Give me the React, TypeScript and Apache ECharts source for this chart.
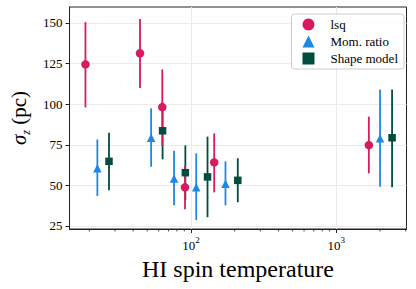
import React, { useEffect, useRef } from 'react';
import * as echarts from 'echarts';

// HI spin temperature (x) and sigma_z (pc) values with error bar bounds
const lsqT = [18.8, 44.6, 63.5, 91, 144.5, 1675];
const lsqV = [124.5, 131.3, 98.2, 48.8, 64.2, 74.8];
const lsqLo = [98, 110, 74.4, 35.3, 45.7, 57.4];
const lsqHi = [150.5, 152.4, 121.4, 62.1, 82, 92.3];

const momT = [22.7, 53.2, 76.5, 108.7, 172.8, 2000];
const momV = [60.5, 79.3, 54.3, 48.8, 51, 79];
const momLo = [43.5, 61.5, 37.7, 28.7, 37.7, 49.2];
const momHi = [78.3, 97.4, 71.3, 69.7, 64.8, 109];

const shapeT = [27.3, 63.8, 91.5, 130, 210, 2420];
const shapeV = [64.8, 83.6, 57.8, 55.2, 53.1, 79.3];
const shapeLo = [47, 66, 41, 30.4, 39.6, 48.8];
const shapeHi = [82.4, 101, 74.6, 80, 66.7, 109];

const yTicks = [25, 50, 75, 100, 125, 150];
const xMajor = [100, 1000];
const xMinor = [20, 30, 40, 50, 60, 70, 80, 90, 200, 300, 400, 500, 600, 700, 800, 900, 2000, 3000];

const C_LSQ = '#D81B60';
const C_MOM = '#1E88E5';
const C_SHAPE = '#004D40';
const FONT = '"Liberation Serif", "DejaVu Serif", serif';

function errSeries(name: string, xs: number[], lo: number[], hi: number[], color: string, z: number) {
  return {
    type: 'custom',
    name,
    z,
    data: xs.map((x, i) => [x, lo[i], hi[i]]),
    encode: { x: 0, y: [1, 2] },
    renderItem: (params: any, api: any) => {
      const p1 = api.coord([api.value(0), api.value(1)]);
      const p2 = api.coord([api.value(0), api.value(2)]);
      return {
        type: 'line',
        shape: { x1: p1[0], y1: p1[1], x2: p2[0], y2: p2[1] },
        style: { stroke: color, lineWidth: 1.8 },
      };
    },
  };
}

export default function App() {
  const ref = useRef<HTMLDivElement>(null);
  useEffect(() => {
    const chart = echarts.init(ref.current!, null, { renderer: 'svg' });
    chart.setOption({
      animation: false,
      backgroundColor: '#fff',
      textStyle: { fontFamily: FONT },
      grid: {
        left: 68, right: 9.5, top: 7, bottom: 60,
        show: true, borderColor: '#222', borderWidth: 1, backgroundColor: 'transparent',
      },
      legend: {
        data: [
          { name: 'lsq', icon: 'circle' },
          { name: 'Mom. ratio', icon: 'triangle' },
          { name: 'Shape model', icon: 'rect' },
        ],
        orient: 'vertical',
        right: 12,
        top: 14,
        padding: [4, 6, 4, 11],
        itemGap: 4,
        itemWidth: 12,
        itemHeight: 12,
        backgroundColor: 'rgba(255,255,255,0.85)',
        borderColor: '#cccccc',
        borderWidth: 1,
        borderRadius: 3,
        textStyle: { fontFamily: FONT, fontSize: 13, color: '#000', padding: [0, 0, 0, 11] },
      },
      xAxis: {
        type: 'log',
        logBase: 10,
        min: 14.6,
        max: 3041,
        name: 'HI spin temperature',
        nameLocation: 'middle',
        nameGap: 25,
        nameTextStyle: { fontFamily: FONT, fontSize: 24, color: '#000' },
        axisLine: { show: true, lineStyle: { color: '#222', width: 1 } },
        axisTick: { show: true, customValues: xMajor, length: 4, lineStyle: { color: '#222' } },
        axisLabel: {
          customValues: xMajor,
          margin: 6,
          formatter: (v: number) => '{a|10}{b|' + Math.round(Math.log10(v)) + '}',
          rich: {
            a: { fontFamily: FONT, fontSize: 13, color: '#000', lineHeight: 17, verticalAlign: 'bottom' },
            b: { fontFamily: FONT, fontSize: 9, color: '#000', lineHeight: 10, verticalAlign: 'top' },
          },
        },
        splitLine: { show: true, lineStyle: { color: '#ebebeb', width: 1 } },
        minorTick: { show: false },
      },
      yAxis: {
        type: 'value',
        min: 23.15,
        max: 159.8,
        name: '{a|σ}{b|z}{c| (pc)}',
        nameLocation: 'middle',
        nameGap: 38,
        nameTextStyle: {
          rich: {
            a: { fontFamily: FONT, fontSize: 21, fontStyle: 'italic', color: '#000', lineHeight: 26, verticalAlign: 'middle' },
            b: { fontFamily: FONT, fontSize: 12, fontStyle: 'italic', color: '#000', lineHeight: 12, verticalAlign: 'bottom' },
            c: { fontFamily: FONT, fontSize: 21, color: '#000', lineHeight: 26, verticalAlign: 'middle' },
          },
        },
        axisLine: { show: true, lineStyle: { color: '#222', width: 1 } },
        axisTick: { show: true, customValues: yTicks, length: 4, lineStyle: { color: '#222' } },
        axisLabel: { customValues: yTicks, margin: 7, fontFamily: FONT, fontSize: 13, color: '#000' },
        splitLine: { show: true, lineStyle: { color: '#ebebeb', width: 1 } },
      },
      series: [
        {
          type: 'custom',
          name: 'minor-ticks',
          silent: true,
          clip: false,
          z: 1,
          data: xMinor.map((v) => [v, 23.15]),
          encode: { x: 0, y: 1 },
          renderItem: (params: any, api: any) => {
            const p = api.coord([api.value(0), api.value(1)]);
            return {
              type: 'line',
              shape: { x1: p[0], y1: p[1], x2: p[0], y2: p[1] + 2.5 },
              style: { stroke: '#222', lineWidth: 0.8 },
            };
          },
        },
        errSeries('shape-err', shapeT, shapeLo, shapeHi, C_SHAPE, 2),
        errSeries('mom-err', momT, momLo, momHi, C_MOM, 3),
        errSeries('lsq-err', lsqT, lsqLo, lsqHi, C_LSQ, 4),
        {
          type: 'scatter', name: 'lsq', z: 6, symbol: 'circle', symbolSize: 8.5,
          itemStyle: { color: C_LSQ, opacity: 1 },
          data: lsqT.map((x, i) => [x, lsqV[i]]),
        },
        {
          type: 'scatter', name: 'Mom. ratio', z: 6, symbol: 'triangle', symbolSize: 8.5,
          itemStyle: { color: C_MOM, opacity: 1 },
          data: momT.map((x, i) => [x, momV[i]]),
        },
        {
          type: 'scatter', name: 'Shape model', z: 6, symbol: 'rect', symbolSize: 7.5,
          itemStyle: { color: C_SHAPE, opacity: 1 },
          data: shapeT.map((x, i) => [x, shapeV[i]]),
        },
      ],
    });
    return () => chart.dispose();
  }, []);
  return <div ref={ref} style={{ position: 'fixed', left: 0, top: 0, width: 416, height: 289 }} />;
}
